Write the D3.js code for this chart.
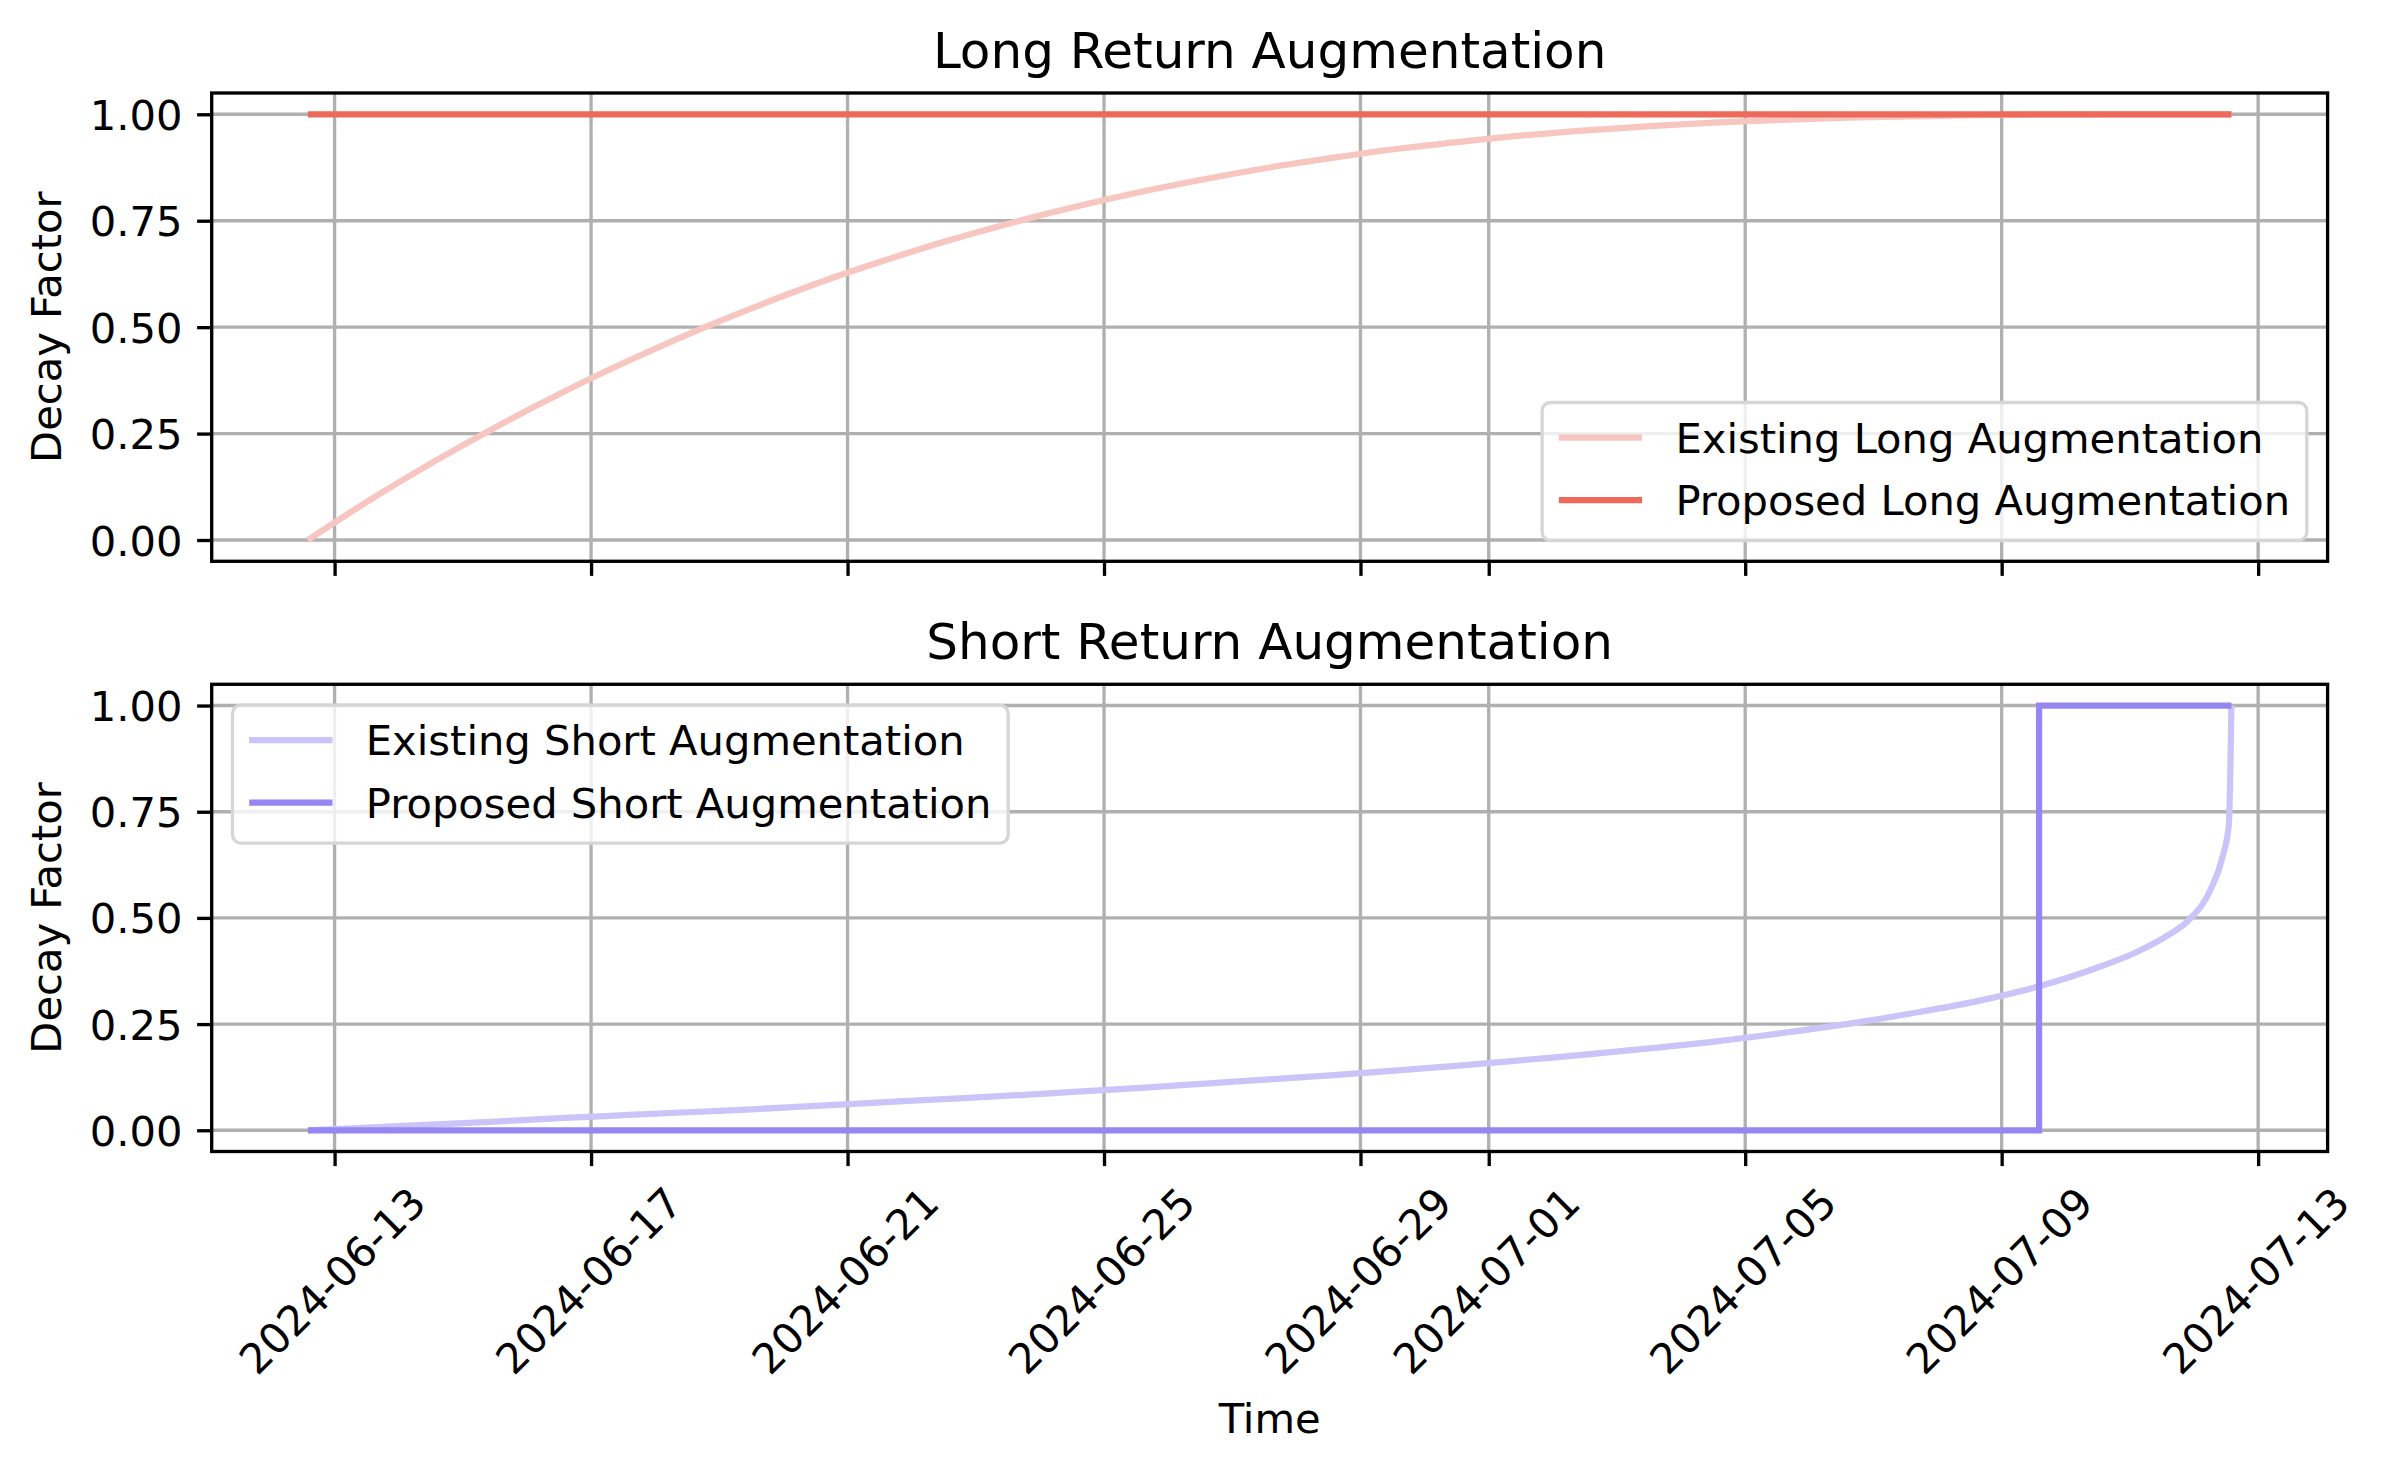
<!DOCTYPE html>
<html>
<head>
<meta charset="utf-8">
<script src="https://cdn.jsdelivr.net/npm/d3@7"></script>
<style>
  body { margin: 0; background: #fff; }
  text { font-family: "DejaVu Sans", sans-serif; }
</style>
</head>
<body>
<div id="chart"></div>
<script>
// data, offsets are days after the first sample
var startTime = Date.UTC(2024, 5, 12, 14, 0);

var longExistingDays = d3.range(0, 31);
var longExistingValues = [0, .097, .187, .271, .349, .421, .488, .549, .606, .657, .704,
    .746, .784, .818, .848, .875, .898, .919, .936, .951, .963,
    .973, .981, .987, .992, .995, .998, .999, 1.0, 1.0, 1.0];

var longProposedDays = [0, 30];
var longProposedValues = [1, 1];

var shortExistingDays = d3.range(0, 29).concat([28.5, 29, 29.35, 29.67, 29.86, 29.96, 30]);
var shortExistingValues = [0, .007, .014, .021, .029, .036, .043, .050, .058, .066,
    .074, .082, .091, .100, .110, .120, .130, .141, .153, .166,
    .179, .194, .210, .229, .250, .275, .303, .339, .388, .418, .458,
    .497, .565, .643, .720, 1.0];

var shortProposedDays = [0, 27, 27, 30];
var shortProposedValues = [0, 0, 1, 1];

var tickDates = ["2024-06-13", "2024-06-17", "2024-06-21", "2024-06-25", "2024-06-29",
    "2024-07-01", "2024-07-05", "2024-07-09", "2024-07-13"];
var yTicks = [0, 0.25, 0.5, 0.75, 1.0];

var svgWidth = 2387;
var svgHeight = 1470;
var fs = 41.67;     // 10pt at 300 dpi
var lw = 3.33;      // 0.8pt

var margin = { left: 211.7, right: 2327.6 };
var panels = [
    { top: 93, bottom: 561.3, title: "Long Return Augmentation",
      series: [
        { name: "Existing Long Augmentation", days: longExistingDays, values: longExistingValues, color: "#f8c6c0" },
        { name: "Proposed Long Augmentation", days: longProposedDays, values: longProposedValues, color: "#ed6a5a" }
      ],
      legend: "lower right", labels: false },
    { top: 684.3, bottom: 1151.5, title: "Short Return Augmentation",
      series: [
        { name: "Existing Short Augmentation", days: shortExistingDays, values: shortExistingValues, color: "#cac4f9" },
        { name: "Proposed Short Augmentation", days: shortProposedDays, values: shortProposedValues, color: "#9587f2" }
      ],
      legend: "upper left", labels: true }
];

function toDate(d) { return new Date(startTime + d * 86400000); }

var svg = d3.select("#chart")
    .append("svg")
    .attr("width", svgWidth)
    .attr("height", svgHeight)
    .style("background", "#fff");

// x: 30 days of data with 5% margins on both sides
var x0 = toDate(-1.5), x1 = toDate(31.5);
var xScale = d3.scaleUtc()
    .domain([x0, x1])
    .range([margin.left, margin.right]);

var tickValues = tickDates.map(s => new Date(s + "T00:00:00Z"));

panels.forEach(function(p) {
    var yScale = d3.scaleLinear()
        .domain([-0.05, 1.05])
        .range([p.bottom, p.top]);

    var g = svg.append("g");

    // grid
    g.selectAll(".vgrid").data(tickValues).enter().append("line")
        .attr("x1", d => xScale(d)).attr("x2", d => xScale(d))
        .attr("y1", p.top).attr("y2", p.bottom)
        .attr("stroke", "#b0b0b0").attr("stroke-width", lw);
    g.selectAll(".hgrid").data(yTicks).enter().append("line")
        .attr("x1", margin.left).attr("x2", margin.right)
        .attr("y1", d => yScale(d)).attr("y2", d => yScale(d))
        .attr("stroke", "#b0b0b0").attr("stroke-width", lw);

    // lines
    var line = d3.line()
        .x(d => xScale(toDate(d[0])))
        .y(d => yScale(d[1]));
    p.series.forEach(function(s) {
        var pts = s.days.map((d, i) => [d, s.values[i]]);
        g.append("path")
            .datum(pts)
            .attr("fill", "none")
            .attr("stroke", s.color)
            .attr("stroke-width", 6.25)
            .attr("d", line.curve(s.days.length > 4 ? d3.curveMonotoneX : d3.curveLinear));
    });

    // spines
    g.append("rect")
        .attr("x", margin.left).attr("y", p.top)
        .attr("width", margin.right - margin.left).attr("height", p.bottom - p.top)
        .attr("fill", "none").attr("stroke", "#000").attr("stroke-width", lw);

    // y axis
    var yAxis = g.append("g")
        .attr("transform", `translate(${margin.left},0)`)
        .call(d3.axisLeft(yScale).tickValues(yTicks).tickFormat(d3.format(".2f"))
            .tickSize(14.58).tickPadding(14.58).tickSizeOuter(0));
    yAxis.select(".domain").remove();
    yAxis.selectAll("line").attr("stroke-width", lw);
    yAxis.selectAll("text").attr("font-size", fs).attr("font-family", "DejaVu Sans")
        .attr("fill", "#000").attr("dy", "0.36em");

    // x axis
    var xAxis = g.append("g")
        .attr("transform", `translate(0,${p.bottom})`)
        .call(d3.axisBottom(xScale).tickValues(tickValues).tickFormat(d3.utcFormat("%Y-%m-%d"))
            .tickSize(14.58).tickPadding(0).tickSizeOuter(0));
    xAxis.select(".domain").remove();
    xAxis.selectAll("line").attr("stroke-width", lw);
    if (!p.labels) {
        xAxis.selectAll("text").remove();
    } else {
        xAxis.selectAll("text")
            .attr("font-size", fs).attr("font-family", "DejaVu Sans").attr("fill", "#000")
            .attr("text-anchor", "middle").attr("y", 0).attr("dy", "0.26em")
            .each(function() {
                var w = this.getComputedTextLength();
                var h = 48.5;
                var cy = 29.16 + (w + h) / (2 * Math.SQRT2);
                d3.select(this).attr("transform", `translate(0,${cy}) rotate(-45)`);
            });
        svg.append("text")
            .attr("x", (margin.left + margin.right) / 2).attr("y", 1433)
            .attr("text-anchor", "middle").attr("font-size", fs)
            .text("Time");
    }

    // title
    svg.append("text")
        .attr("x", (margin.left + margin.right) / 2).attr("y", p.top - 25)
        .attr("text-anchor", "middle").attr("font-size", 50)
        .text(p.title);

    // y label
    svg.append("text")
        .attr("transform", `translate(61,${(p.top + p.bottom) / 2}) rotate(-90)`)
        .attr("text-anchor", "middle").attr("font-size", fs)
        .text("Decay Factor");

    // legend
    var lg = svg.append("g");
    var labelsText = lg.selectAll(".lt").data(p.series).enter().append("text")
        .attr("font-size", fs).text(d => d.name);
    var maxW = d3.max(labelsText.nodes(), n => n.getComputedTextLength());
    var pad = 16.7, handle = 83.3, tpad = 33.3;
    var boxW = pad + handle + tpad + maxW + pad;
    var boxH = 138;
    var bx, by;
    if (p.legend === "lower right") {
        bx = margin.right - 20.8 - boxW;
        by = p.bottom - 20.8 - boxH;
    } else {
        bx = margin.left + 20.8;
        by = p.top + 20.8;
    }
    lg.insert("rect", "text")
        .attr("x", bx).attr("y", by).attr("width", boxW).attr("height", boxH)
        .attr("rx", 8.3).attr("ry", 8.3)
        .attr("fill", "#fff").attr("fill-opacity", 0.8)
        .attr("stroke", "#d6d6d6").attr("stroke-width", lw);
    var rowY = [by + 35, by + 97.5];
    lg.selectAll(".lh").data(p.series).enter().append("line")
        .attr("x1", bx + pad).attr("x2", bx + pad + handle)
        .attr("y1", (d, i) => rowY[i]).attr("y2", (d, i) => rowY[i])
        .attr("stroke", d => d.color).attr("stroke-width", 6.25);
    labelsText
        .attr("x", bx + pad + handle + tpad)
        .attr("y", (d, i) => rowY[i])
        .attr("dy", "0.365em");
});
</script>
</body>
</html>
